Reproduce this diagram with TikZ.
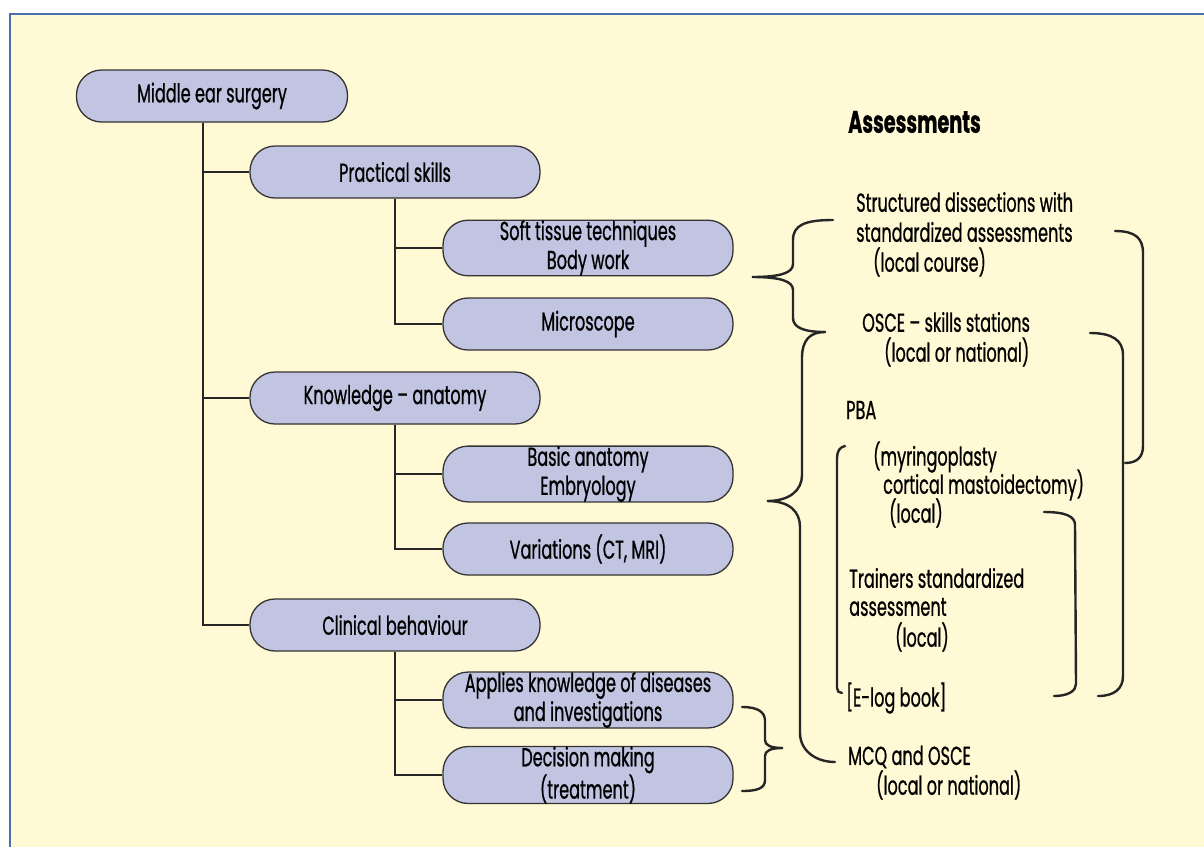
\documentclass[tikz,border=0pt]{standalone}
\usepackage{fontspec}
\setmainfont{Poppins}[FakeStretch=0.62, FakeBold=0.7]
\usepackage{tikz}
\usetikzlibrary{positioning}
\definecolor{pagebg}{HTML}{FFF9D5}
\definecolor{framebl}{HTML}{4A70AE}
\definecolor{pillfill}{HTML}{C2C5E1}
\newcommand{\boxfont}{\fontsize{26}{29}\selectfont}
\tikzset{
  pill/.style={draw=black!80, line width=1.3pt, fill=pillfill, rounded corners=25pt,
    minimum height=52pt, minimum width=290pt, inner ysep=0pt, align=center, font=\boxfont},
  link/.style={line width=2.5pt, black!85},
  brc/.style={line width=2.4pt, black!85, line cap=round},
  note/.style={anchor=west, inner sep=0pt, font=\boxfont},
}

\begin{document}
\begin{tikzpicture}[x=1pt,y=-1pt]
  \useasboundingbox (0,0) rectangle (1204,847);
  \fill[pagebg] (9,13) rectangle (1204,847);
  \draw[framebl, line width=2.5pt] (10,847) -- (10,14) -- (1204,14);

      \node[pill, minimum width=271pt] (mes) at (212,96) {Middle ear surgery};
  \node[pill] (ps) at (395,172) {Practical skills};
      \node[pill] (stt) at (588,248) {Soft tissue techniques\\Body work};
      \node[pill] (mic) at (588,324) {Microscope};
  \node[pill] (ka) at (395,398) {Knowledge -- anatomy};
      \node[pill] (ba) at (588,474) {Basic anatomy\\Embryology};
      \node[pill] (var) at (588,549) {Variations (CT, MRI)};
  \node[pill] (cb) at (395,625) {Clinical behaviour};
      \node[pill] (akd) at (588,700) {Applies knowledge of diseases\\and investigations};
      \node[pill] (dm) at (588,775) {Decision making\\(treatment)};

      \draw[link] ([xshift=-9pt]mes.south) |- (ps.west);
      \draw[link] ([xshift=-9pt]mes.south) |- (ka.west);
      \draw[link] ([xshift=-9pt]mes.south) |- (cb.west);
      \draw[link] (ps.south) |- (stt.west);
      \draw[link] (ps.south) |- (mic.west);
      \draw[link] (ka.south) |- (ba.west);
      \draw[link] (ka.south) |- (var.west);
      \draw[link] (cb.south) |- (akd.west);
      \draw[link] (cb.south) |- (dm.west);

  \node[note, font=\fontsize{31}{34}\selectfont\bfseries] (head) at (848,122) {Assessments};
  \node[note] (sd1) at (856,202) {Structured dissections with};
  \node[note] (sd2) at (856,232) {standardized assessments};
  \node[note] (sd3) at (873,262) {(local course)};
  \node[note] (os1) at (862,322) {OSCE -- skills stations};
  \node[note] (os2) at (884,352) {(local or national)};
  \node[note] (pba) at (846,410) {PBA};
  \node[note] (pb1) at (873,457) {(myringoplasty};
  \node[note] (pb2) at (883,485) {cortical mastoidectomy)};
  \node[note] (pb3) at (889,513) {(local)};
  \node[note] (tr1) at (849,578) {Trainers standardized};
  \node[note] (tr2) at (849,607) {assessment};
  \node[note] (tr3) at (895,637) {(local)};
  \node[note] (elog) at (846,698) {[E-log book]};
  \node[note] (mcq1) at (848,757) {MCQ and OSCE};
  \node[note] (mcq2) at (876,785) {(local or national)};

      \draw[brc] (833,220) .. controls (805,220) and (793,225) .. (793,240) -- (793,264)
        .. controls (793,273) and (780,277) .. (752,277) .. controls (780,277) and (793,281) .. (793,290)
        -- (793,318) .. controls (793,328) and (805,332) .. (825,332);
      \draw[brc] (825,332) .. controls (810,332) and (802,340) .. (802,358) -- (802,475)
        .. controls (802,490) and (790,501) .. (767,501) .. controls (790,501) and (800,512) .. (800,527)
        -- (800,733) .. controls (800,750) and (815,762) .. (835,762);
      \draw[brc] (742,707) .. controls (758,707) and (765,712) .. (765,721) -- (765,740)
        .. controls (765,745) and (770,748) .. (783,748) .. controls (770,748) and (765,751) .. (765,756)
        -- (765,780) .. controls (765,788) and (758,791) .. (742,791);
      \draw[brc] (1115,231) .. controls (1135,231) and (1143,238) .. (1143,253) -- (1143,446)
        .. controls (1143,457) and (1137,463) .. (1125,463);
      \draw[brc] (1090,333) .. controls (1112,333) and (1123,340) .. (1123,355) -- (1123,676)
        .. controls (1123,689) and (1114,696) .. (1098,696);
      \draw[brc] (1044,512) .. controls (1065,512) and (1075,516) .. (1075,525) -- (1076,684)
        .. controls (1076,691) and (1068,696) .. (1054,696);
      \draw[brc] (845,446) .. controls (840,447) and (837,451) .. (837,458) -- (837,688)
        .. controls (837,691) and (839,693) .. (842,693);
\end{tikzpicture}
\end{document}
